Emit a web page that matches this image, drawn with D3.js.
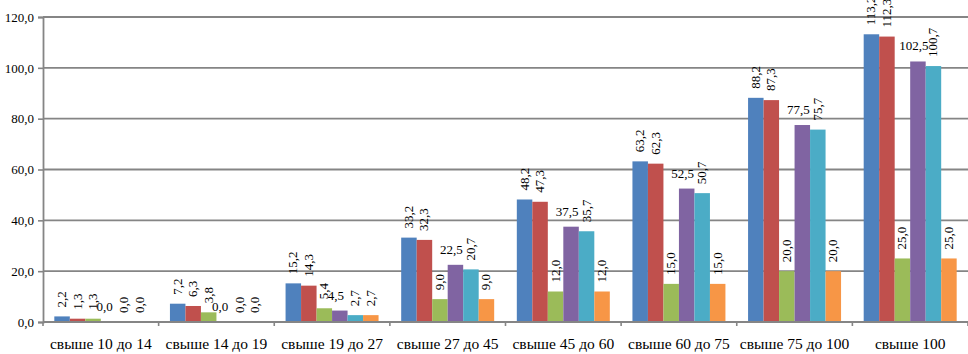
<!DOCTYPE html>
<html><head><meta charset="utf-8">
<script src="https://cdn.jsdelivr.net/npm/d3@7"></script>
<style>body{margin:0;background:#fff}svg{display:block}</style>
</head><body><div id="c"></div>
<script>
const categories = ["свыше 10 до 14","свыше 14 до 19","свыше 19 до 27","свыше 27 до 45","свыше 45 до 60","свыше 60 до 75","свыше 75 до 100","свыше 100"];
const series1 = [2.2, 7.2, 15.2, 33.2, 48.2, 63.2, 88.2, 113.2];
const series2 = [1.3, 6.3, 14.3, 32.3, 47.3, 62.3, 87.3, 112.3];
const series3 = [1.3, 3.8, 5.4, 9.0, 12.0, 15.0, 20.0, 25.0];
const series4 = [0.0, 0.0, 4.5, 22.5, 37.5, 52.5, 77.5, 102.5];
const series5 = [0.0, 0.0, 2.7, 20.7, 35.7, 50.7, 75.7, 100.7];
const series6 = [0.0, 0.0, 2.7, 9.0, 12.0, 15.0, 20.0, 25.0];
const yTicks = [0, 20, 40, 60, 80, 100, 120];

const allSeries = [series1, series2, series3, series4, series5, series6];
const colors = ["#4F81BD","#C0504D","#9BBB59","#8064A2","#4BACC6","#F79646"];
const horizontalSeries = 3; // labels of this series are drawn horizontally
const FONT = "Liberation Serif";

const W = 968, H = 354;
const m = {l: 43, r: 0, t: 17, b: 32};
const svg = d3.select("#c").append("svg").attr("width", W).attr("height", H);

const x0 = d3.scaleBand().domain(categories).range([m.l, W - m.r]).paddingInner(0).paddingOuter(0);
const x1 = d3.scaleBand().domain(d3.range(6)).range([0, x0.bandwidth()]).paddingOuter(0.73).paddingInner(0);
const y = d3.scaleLinear().domain([0, 120]).range([H - m.b, m.t]);

const fmt = v => d3.format(".1f")(v).replace(".", ",");

// gridlines
svg.append("g").selectAll("line").data(yTicks.filter(t => t > 0)).join("line")
  .attr("x1", m.l).attr("x2", W).attr("y1", d => y(d)).attr("y2", d => y(d))
  .attr("stroke", "#858585").attr("stroke-width", 1.8);

// y axis
const yAxis = svg.append("g").attr("transform", `translate(${m.l},0)`)
  .call(d3.axisLeft(y).tickValues(yTicks).tickFormat(fmt).tickSize(5).tickPadding(4));
yAxis.attr("font-family", FONT);
yAxis.select(".domain").attr("stroke", "#858585").attr("stroke-width", 1.8);
yAxis.selectAll(".tick line").attr("stroke", "#858585").attr("stroke-width", 1.6);
yAxis.selectAll("text").attr("font-family", FONT).attr("font-size", 13).attr("fill", "#000");

// bars
const groups = svg.append("g").selectAll("g").data(categories).join("g")
  .attr("transform", d => `translate(${x0(d)},0)`);
groups.each(function(cat, ci) {
  const g = d3.select(this);
  allSeries.forEach((s, si) => {
    const v = s[ci];
    g.append("rect").attr("x", x1(si)).attr("width", x1.bandwidth())
      .attr("y", y(v)).attr("height", y(0) - y(v)).attr("fill", colors[si]);
  });
});

// x axis
const xAxisG = svg.append("g").attr("transform", `translate(0,${y(0)})`);
xAxisG.append("line").attr("x1", m.l).attr("x2", W).attr("stroke", "#858585").attr("stroke-width", 1.8);
const bounds = categories.map(c => x0(c)).concat([x0(categories[categories.length-1]) + x0.bandwidth()]);
xAxisG.selectAll(".xt").data(bounds).join("line").attr("class","xt")
  .attr("x1", d => d).attr("x2", d => d).attr("y1", 0).attr("y2", 4)
  .attr("stroke", "#858585").attr("stroke-width", 1.6);
xAxisG.selectAll(".xl").data(categories).join("text").attr("class","xl")
  .attr("x", d => x0(d) + x0.bandwidth()/2).attr("y", 27)
  .attr("text-anchor", "middle").attr("font-family", FONT)
  .attr("font-size", 15.5).attr("fill", "#000").text(d => d);

// data labels
const lab = svg.append("g");
categories.forEach((cat, ci) => {
  allSeries.forEach((s, si) => {
    const v = s[ci];
    const cx = x0(cat) + x1(si) + x1.bandwidth()/2;
    const top = y(v);
    let t;
    if (si === horizontalSeries) {
      t = lab.append("text").attr("x", cx - 4).attr("y", top - 11).attr("text-anchor", "middle");
    } else {
      t = lab.append("text").attr("transform", `translate(${cx + 4},${top - 9}) rotate(-90)`)
        .attr("text-anchor", "start");
    }
    t.attr("font-family", FONT).attr("font-size", 13).attr("fill", "#000").text(fmt(v));
  });
});
</script></body></html>
